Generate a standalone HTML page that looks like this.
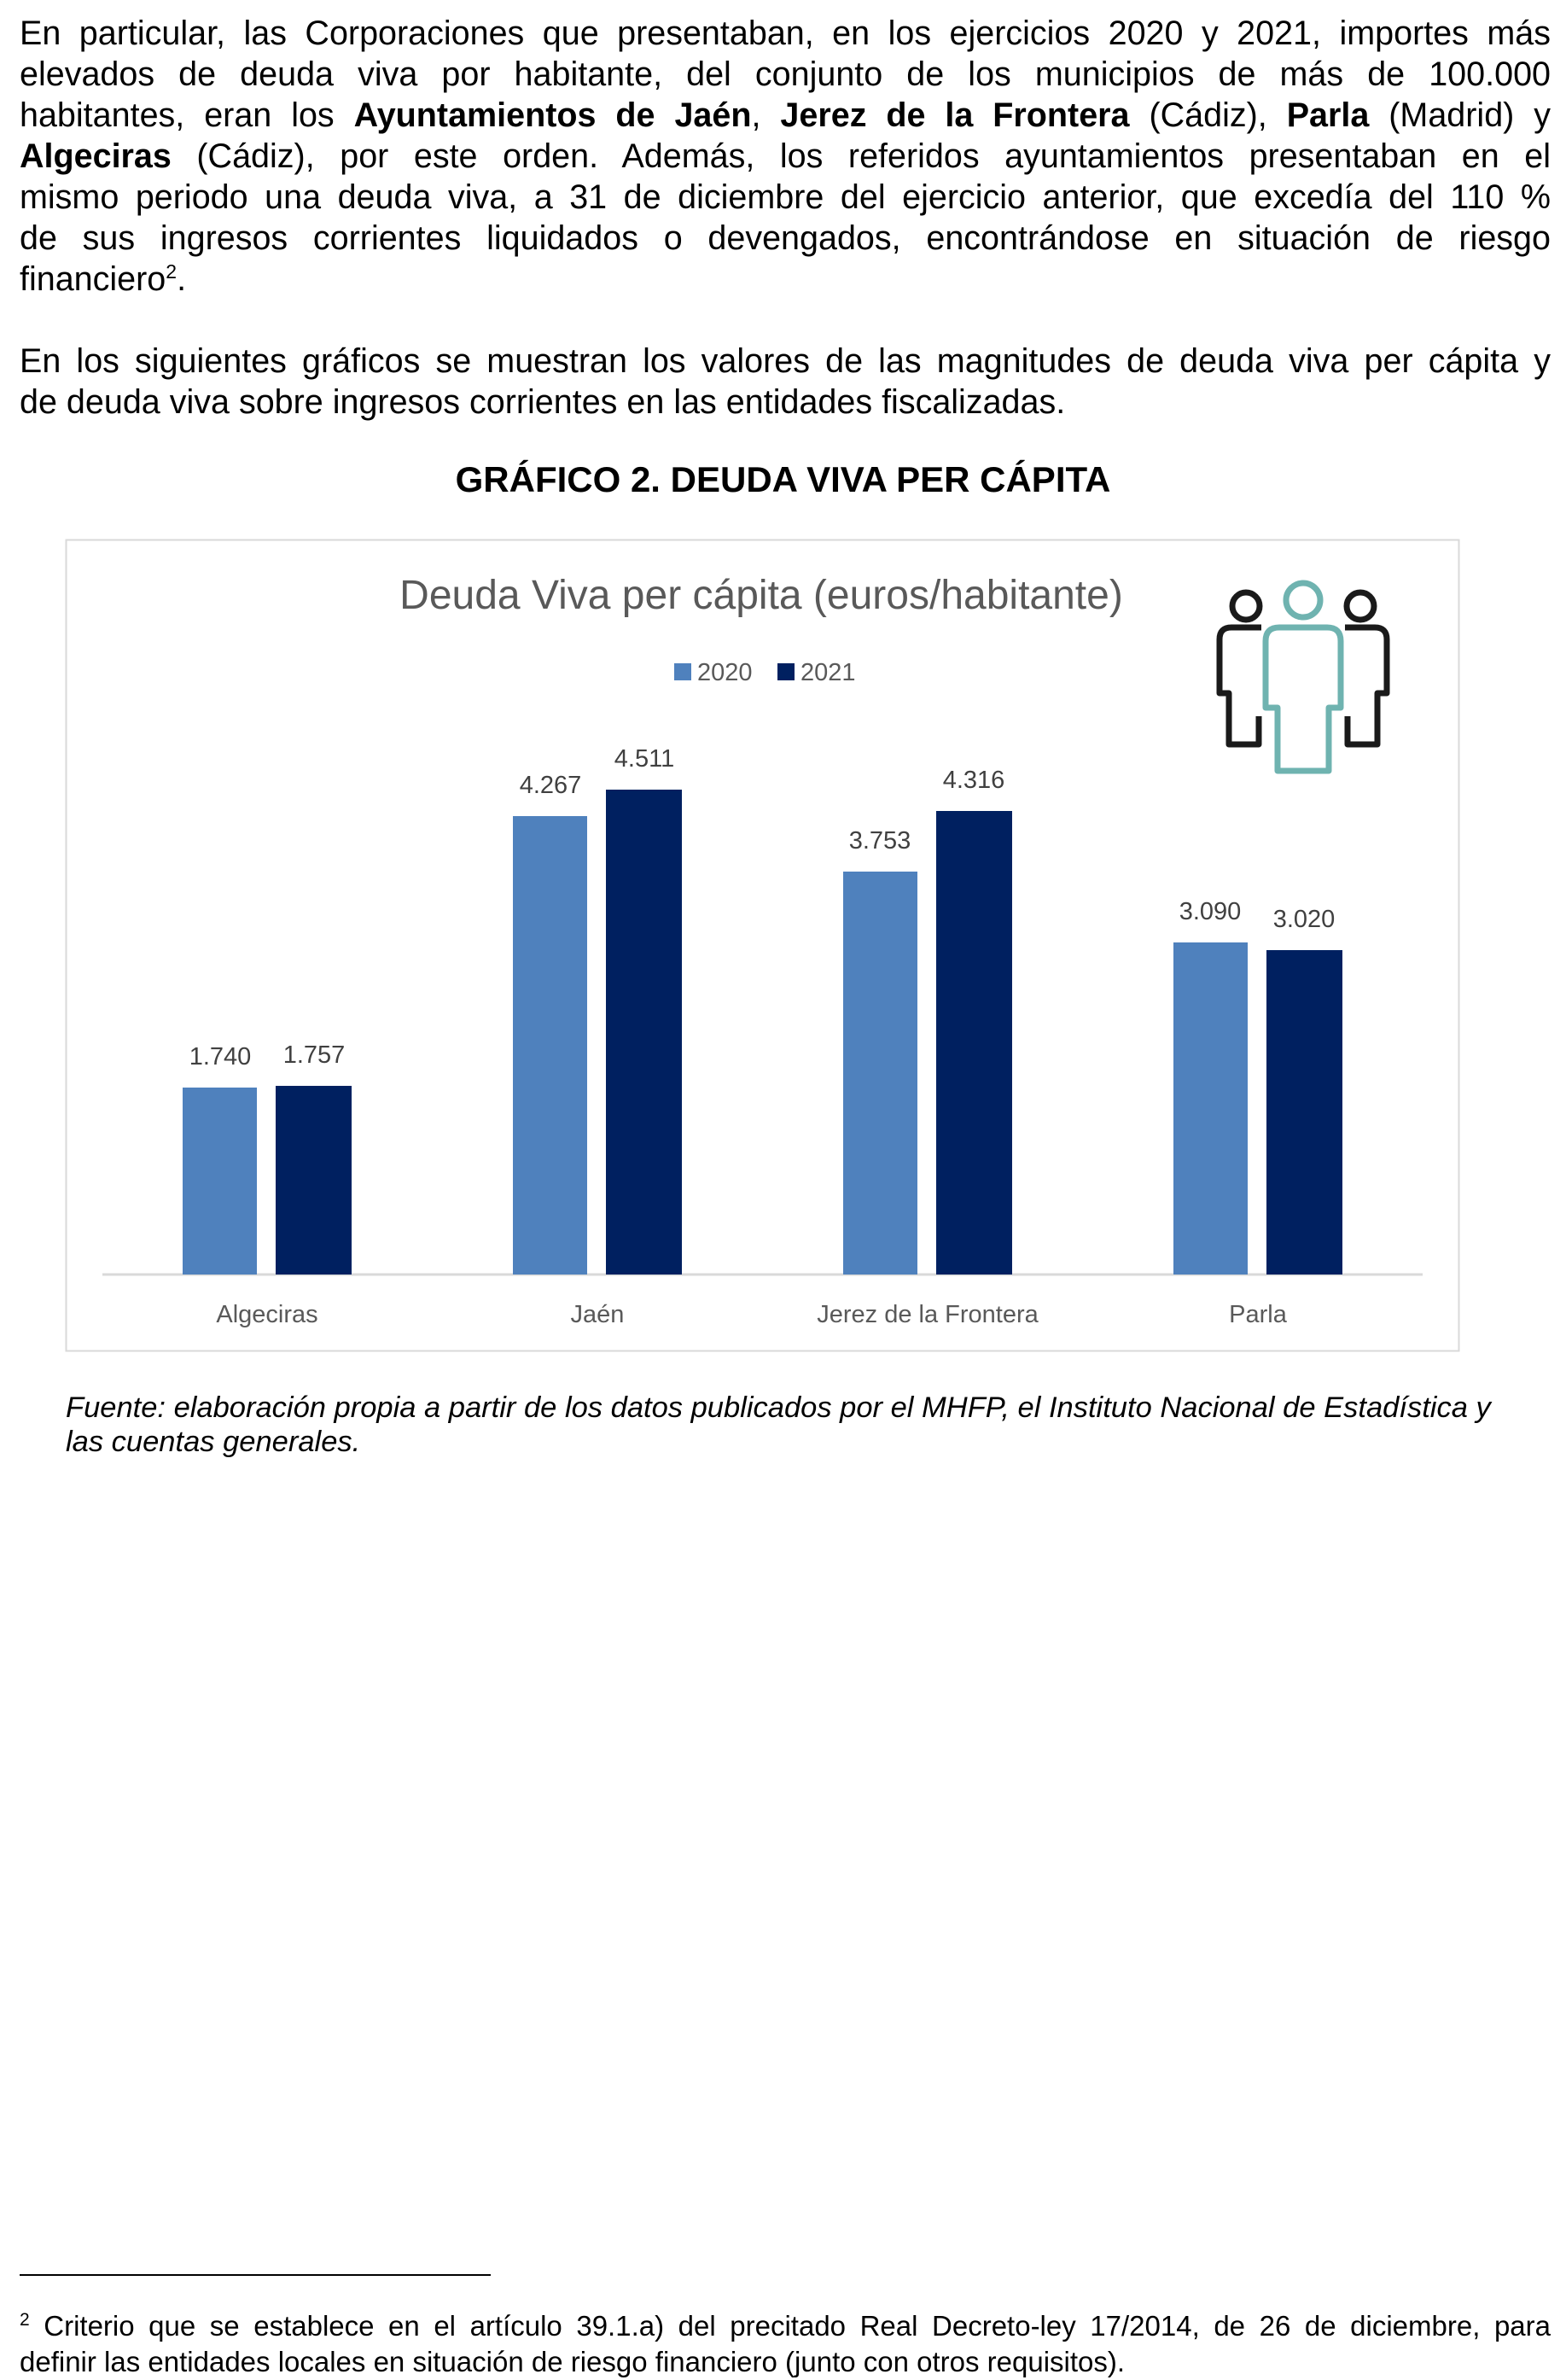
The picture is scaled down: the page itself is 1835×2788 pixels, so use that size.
<!DOCTYPE html>
<html><head><meta charset="utf-8"><style>
body{margin:0;width:1835px;height:2776px;background:#fff;position:relative;font-family:"Liberation Sans",Arial,sans-serif;color:#000}
.p{position:absolute;left:23px;width:1794px;font-size:39.5px;line-height:48px}
.l{text-align:justify;text-align-last:justify;white-space:nowrap;height:48px}
.l.last{text-align-last:left}
.h{position:absolute;left:0;width:1835px;text-align:center;top:538px;font-size:42px;font-weight:bold}
.fu{position:absolute;left:77px;top:1629px;font-size:34.5px;font-style:italic;line-height:40px;width:1760px}
.fn{position:absolute;left:23px;top:2704px;width:1794px;font-size:33px;line-height:42px}
</style></head><body>
<div class="p" style="top:15px">
<div class="l">En particular, las Corporaciones que presentaban, en los ejercicios 2020 y 2021, importes más</div>
<div class="l">elevados de deuda viva por habitante, del conjunto de los municipios de más de 100.000</div>
<div class="l">habitantes, eran los <b>Ayuntamientos de Jaén</b>, <b>Jerez de la Frontera</b> (Cádiz), <b>Parla</b> (Madrid) y</div>
<div class="l"><b>Algeciras</b> (Cádiz), por este orden. Además, los referidos ayuntamientos presentaban en el</div>
<div class="l">mismo periodo una deuda viva, a 31 de diciembre del ejercicio anterior, que excedía del 110 %</div>
<div class="l">de sus ingresos corrientes liquidados o devengados, encontrándose en situación de riesgo</div>
<div class="l last">financiero<sup style="font-size:23px;line-height:0">2</sup>.</div>
</div>
<div class="p" style="top:399px">
<div class="l">En los siguientes gráficos se muestran los valores de las magnitudes de deuda viva per cápita y</div>
<div class="l last">de deuda viva sobre ingresos corrientes en las entidades fiscalizadas.</div>
</div>
<div class="h">GRÁFICO 2. DEUDA VIVA PER CÁPITA</div>
<svg style="position:absolute;left:0;top:0" width="1835" height="1700">
<rect x="77.5" y="632.5" width="1632" height="950" fill="#fff" stroke="#d9d9d9" stroke-width="2"/>
<g font-family="Liberation Sans, Arial, sans-serif">
<text x="892" y="713" font-size="48" fill="#595959" text-anchor="middle">Deuda Viva per cápita (euros/habitante)</text>
<rect x="790" y="777" width="20" height="20" fill="#4f81bd"/>
<text x="817" y="797" font-size="29" fill="#595959">2020</text>
<rect x="911" y="777" width="20" height="20" fill="#002060"/>
<text x="938" y="797" font-size="29" fill="#595959">2021</text>
<line x1="120" y1="1493" x2="1667" y2="1493" stroke="#d9d9d9" stroke-width="3"/>
<g fill="#4f81bd">
<rect x="214" y="1274" width="87" height="219"/>
<rect x="601" y="956" width="87" height="537"/>
<rect x="988" y="1021" width="87" height="472"/>
<rect x="1375" y="1104" width="87" height="389"/>
</g>
<g fill="#002060">
<rect x="323" y="1272" width="89" height="221"/>
<rect x="710" y="925" width="89" height="568"/>
<rect x="1097" y="950" width="89" height="543"/>
<rect x="1484" y="1113" width="89" height="380"/>
</g>
<g font-size="29" fill="#404040" text-anchor="middle">
<text x="258" y="1247">1.740</text><text x="368" y="1245">1.757</text>
<text x="645" y="929">4.267</text><text x="755" y="898">4.511</text>
<text x="1031" y="994">3.753</text><text x="1141" y="923">4.316</text>
<text x="1418" y="1077">3.090</text><text x="1528" y="1086">3.020</text>
</g>
<g font-size="29" fill="#595959" text-anchor="middle">
<text x="313" y="1549">Algeciras</text><text x="700" y="1549">Jaén</text>
<text x="1087" y="1549">Jerez de la Frontera</text><text x="1474" y="1549">Parla</text>
</g>
</g>
<g fill="none" stroke-width="7" stroke-linejoin="round">
<g stroke="#1a1a1a">
<circle cx="1460" cy="710" r="16"/>
<circle cx="1594" cy="710" r="16"/>
<path d="M1478 735 H1443 Q1429 735 1429 749 V812 H1440 V872 H1475 V839"/>
<path d="M1576 735 H1611 Q1625 735 1625 749 V812 H1614 V872 H1579 V839"/>
</g>
<g stroke="#6fb3b0">
<circle cx="1527" cy="703" r="20"/>
<path d="M1499 735 H1555 Q1571 735 1571 751 V829 H1557 V903 H1497 V829 H1483 V751 Q1483 735 1499 735 Z"/>
</g>
</g>
</svg>
<div class="fu">Fuente: elaboración propia a partir de los datos publicados por el MHFP, el Instituto Nacional de Estadística y<br>las cuentas generales.</div>
<div style="position:absolute;left:23px;top:2664px;width:552px;height:2px;background:#000"></div>
<div class="fn">
<div class="l" style="height:42px"><sup style="font-size:21px;line-height:0">2</sup> Criterio que se establece en el artículo 39.1.a) del precitado Real Decreto-ley 17/2014, de 26 de diciembre, para</div>
<div>definir las entidades locales en situación de riesgo financiero (junto con otros requisitos).</div>
</div>
</body></html>
